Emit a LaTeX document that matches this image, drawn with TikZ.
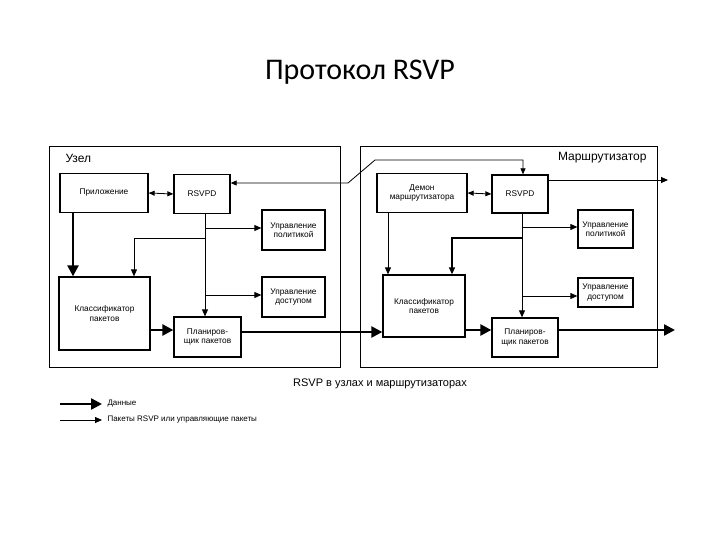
\documentclass[tikz,border=0pt]{standalone}
\usepackage{fontspec}
\setmainfont{Liberation Sans}
\newfontfamily\titlefont{Carlito}
\usetikzlibrary{arrows.meta}
\begin{document}
\begin{tikzpicture}[x=1pt,y=-1pt,
 box/.style={draw,line width=1.3pt,align=center,font=\fontsize{8.3}{9.5}\selectfont,inner sep=0pt},
 frame/.style={draw,line width=1pt},
 data/.style={line width=2.4pt,-{Triangle[length=11pt,width=11pt]}},
 ctrl/.style={line width=0.8pt,-{Triangle[length=7pt,width=6pt]}},
 ctrl2/.style={line width=0.8pt,{Triangle[length=6pt,width=5pt]}-{Triangle[length=6pt,width=5pt]}}]
\useasboundingbox (0,0) rectangle (720,540);
\node[font=\titlefont\fontsize{30}{32}\selectfont] (title) at (360,72) {Протокол RSVP};
% frames
\draw[frame] (49,147) rectangle (340,367);
\draw[frame] (360,147) rectangle (657,367);
\node[font=\fontsize{12}{13}\selectfont,anchor=west] (uzel) at (62,158) {Узел};
\node[font=\fontsize{12}{13}\selectfont,anchor=east] (marsh) at (650,158) {Маршрутизатор};
% left boxes
\node[box,minimum width=88pt,minimum height=39pt] (app) at (104,193) {Приложение};
\node[box,minimum width=56pt,minimum height=39pt] (rs1) at (202,194) {RSVPD};
\node[box,minimum width=63pt,minimum height=40pt] (pol1) at (293.5,230) {Управление\\политикой};
\node[box,minimum width=91pt,minimum height=73pt] (cls1) at (104.5,313.5) {Классификатор\\пакетов};
\node[box,minimum width=63pt,minimum height=40pt] (acc1) at (293.5,297) {Управление\\доступом};
\node[box,minimum width=67pt,minimum height=40pt] (sch1) at (207.5,337) {Планиров-\\щик пакетов};
% right boxes
\node[box,minimum width=90pt,minimum height=39pt] (dem) at (422,193) {Демон\\маршрутизатора};
\node[box,minimum width=56pt,minimum height=38pt] (rs2) at (520,194) {RSVPD};
\node[box,minimum width=55pt,minimum height=38pt] (pol2) at (605.5,229) {Управление\\политикой};
\node[box,minimum width=82pt,minimum height=62pt] (cls2) at (424,306) {Классификатор\\пакетов};
\node[box,minimum width=55pt,minimum height=29pt] (acc2) at (605.5,292.5) {Управление\\доступом};
\node[box,minimum width=66pt,minimum height=39pt] (sch2) at (525,337.5) {Планиров-\\щик пакетов};
\coordinate (out1) at (675,330);
\coordinate (out2) at (668,180);
% left connectors
\draw[ctrl2] (app.east) -- (rs1.west);
\draw[data] (app.south -| 73,0) -- (cls1.north -| 73,0);
\draw[ctrl] (rs1.south -| 205,0) -- (sch1.north -| 205,0);
\draw[ctrl] (205,228) -- (pol1.west |- 0,228);
\draw[ctrl] (205,295) -- (acc1.west |- 0,295);
\draw[ctrl] (205,238) -- (134,238) -- (cls1.north -| 134,0);
\draw[data] (cls1.east |- 0,330) -- (sch1.west |- 0,330);
\draw[data] (sch1.east |- 0,332) -- (cls2.west |- 0,332);
% top link
\draw[ctrl2] (rs1.east |- 0,183) -- (348,183) -- (375,160) -- (523,160) -- (rs2.north -| 523,0);
% right connectors
\draw[ctrl2] (dem.east) -- (rs2.west);
\draw[ctrl] (dem.south -| 388,0) -- (cls2.north -| 388,0);
\draw[ctrl] (rs2.south -| 522,0) -- (sch2.north -| 522,0);
\draw[ctrl] (522,227) -- (pol2.west |- 0,227);
\draw[ctrl] (522,296) -- (acc2.west |- 0,296);
\draw[ctrl,line width=1.3pt] (522,238) -- (452,238) -- (cls2.north -| 452,0);
\draw[data] (cls2.east |- 0,330) -- (sch2.west |- 0,330);
\draw[data] (sch2.east |- 0,330) -- (out1);
\draw[ctrl] (rs2.east |- 0,180) -- (out2);
% caption and legend
\node[font=\fontsize{11}{12}\selectfont] (cap) at (380,384) {RSVP в узлах и маршрутизаторах};
\coordinate (l1a) at (60,404); \coordinate (l1b) at (102,404);
\coordinate (l2a) at (60,420); \coordinate (l2b) at (102,420);
\draw[data] (l1a) -- (l1b);
\draw[ctrl] (l2a) -- (l2b);
\node[font=\fontsize{8}{9}\selectfont,anchor=west] (lt1) at (104,404) {Данные};
\node[font=\fontsize{8}{9}\selectfont,anchor=west] (lt2) at (104,420) {Пакеты RSVP или управляющие пакеты};
\end{tikzpicture}
\end{document}
